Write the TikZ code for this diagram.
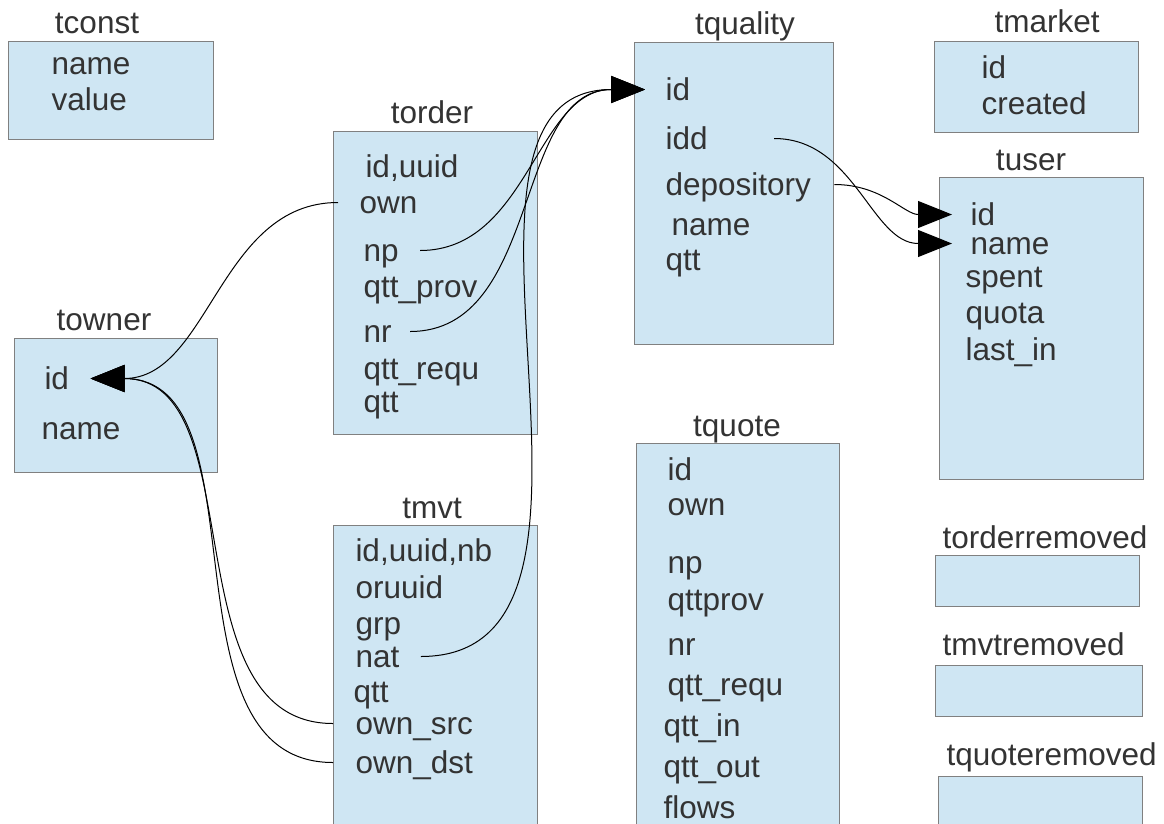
\documentclass[tikz,border=0pt]{standalone}
\usepackage{fontspec}
\setmainfont{Liberation Sans}
\usepackage{tikz}
\usetikzlibrary{arrows.meta,positioning,calc}

\definecolor{tablefill}{HTML}{CFE6F3}
\definecolor{tableline}{HTML}{808080}
\definecolor{fieldtext}{HTML}{333333}

\begin{document}
\begin{tikzpicture}[->, >={Triangle[length=34pt,width=27pt]}, x=1pt, y=-1pt, line width=1pt]
\tikzstyle{every node}=[inner sep=0pt, text=fieldtext, font=\fontsize{31.5}{36}\selectfont, text height=21pt, text depth=0pt]
\tikzstyle{table}=[-, draw=tableline, fill=tablefill]
\tikzstyle{title}=[anchor=base]
\tikzstyle{field}=[anchor=base west]

\useasboundingbox (0,0) rectangle (1164,823);
\clip (0,0) rectangle (1164,823);

% table boxes
\draw[table] (8,41)    rectangle (213,139);   % tconst
\draw[table] (333,131) rectangle (537,434);   % torder
\draw[table] (14,338)  rectangle (217,472);   % towner
\draw[table] (333,525) rectangle (537,830);   % tmvt
\draw[table] (634,42)  rectangle (833,344);   % tquality
\draw[table] (934,41)  rectangle (1138,132);  % tmarket
\draw[table] (939,177) rectangle (1143,479);  % tuser
\draw[table] (636,443) rectangle (839,830);   % tquote
\draw[table] (935,555) rectangle (1139,606);  % torderremoved
\draw[table] (935,665) rectangle (1142,716);  % tmvtremoved
\draw[table] (938,776) rectangle (1142,830);  % tquoteremoved

% tconst
\node[title] (tconst)       at (97,33)   {tconst};
\node[field] (tconst-name)  at (51,74)   {name};
\node[field] (tconst-value) at (51,110)  {value};

% torder
\node[title] (torder)         at (432,123) {torder};
\node[field] (torder-id)      at (365,177) {id,uuid};
\node[field] (torder-own)     at (359,213) {own};
\node[field] (torder-np)      at (363,261) {np};
\node[field] (torder-qttprov) at (363,297) {qtt\_prov};
\node[field] (torder-nr)      at (363,342) {nr};
\node[field] (torder-qttrequ) at (363,379) {qtt\_requ};
\node[field] (torder-qtt)     at (363,412) {qtt};

% towner
\node[title] (towner)      at (104,330) {towner};
\node[field] (towner-id)   at (44,389)  {id};
\node[field] (towner-name) at (41,439)  {name};

% tmvt
\node[title] (tmvt)        at (432,518) {tmvt};
\node[field] (tmvt-id)     at (355,561) {id,uuid,nb};
\node[field] (tmvt-oruuid) at (355,598) {oruuid};
\node[field] (tmvt-grp)    at (355,634) {grp};
\node[field] (tmvt-nat)    at (355,667) {nat};
\node[field] (tmvt-qtt)    at (353,702) {qtt};
\node[field] (tmvt-ownsrc) at (355,734) {own\_src};
\node[field] (tmvt-owndst) at (355,773) {own\_dst};

% tquality
\node[title] (tquality)            at (745,34)  {tquality};
\node[field] (tquality-id)         at (665,100) {id};
\node[field] (tquality-idd)        at (665,149) {idd};
\node[field] (tquality-depository) at (665,195) {depository};
\node[field] (tquality-name)       at (671,235) {name};
\node[field] (tquality-qtt)        at (665,270) {qtt};

% tmarket
\node[title] (tmarket)         at (1047,32) {tmarket};
\node[field] (tmarket-id)      at (981,78)  {id};
\node[field] (tmarket-created) at (981,114) {created};

% tuser
\node[title] (tuser)        at (1031,170) {tuser};
\node[field] (tuser-id)     at (970,225)  {id};
\node[field] (tuser-name)   at (970,254)  {name};
\node[field] (tuser-spent)  at (965,287)  {spent};
\node[field] (tuser-quota)  at (965,323)  {quota};
\node[field] (tuser-lastin) at (965,360)  {last\_in};

% tquote
\node[title] (tquote)         at (737,436) {tquote};
\node[field] (tquote-id)      at (667,480) {id};
\node[field] (tquote-own)     at (667,515) {own};
\node[field] (tquote-np)      at (667,573) {np};
\node[field] (tquote-qttprov) at (667,610) {qttprov};
\node[field] (tquote-nr)      at (667,655) {nr};
\node[field] (tquote-qttrequ) at (667,695) {qtt\_requ};
\node[field] (tquote-qttin)   at (663,736) {qtt\_in};
\node[field] (tquote-qttout)  at (663,777) {qtt\_out};
\node[field] (tquote-flows)   at (663,818) {flows};

% removed tables
\node[title, anchor=base west] (torderremoved) at (942,548) {torderremoved};
\node[title, anchor=base west] (tmvtremoved)   at (942,655) {tmvtremoved};
\node[title, anchor=base west] (tquoteremoved) at (946,765) {tquoteremoved};

% references
\path
([xshift=21pt]torder-np.east)           edge[out=0, in=180]   ([xshift=-20pt]tquality-id.west)
([xshift=18pt]torder-nr.east)           edge[out=0, in=180]   ([xshift=-20pt]tquality-id.west)
([xshift=21pt]tmvt-nat.east)            edge[out=0, in=180]   ([xshift=-20pt]tquality-id.west)
([xshift=66pt]tquality-idd.east)        edge[out=0, in=180]   ([xshift=-18pt]tuser-name.west)
([xshift=23pt]tquality-depository.east) edge[out=0, in=180]   ([xshift=-18pt]tuser-id.west)

([xshift=-21pt]torder-own.west)         edge[out=180, in=0]   ([xshift=21pt]towner-id.east)
([xshift=-22pt]tmvt-ownsrc.west)        edge[out=180, in=0]   ([xshift=21pt]towner-id.east)
([xshift=-22pt]tmvt-owndst.west)        edge[out=180, in=0]   ([xshift=21pt]towner-id.east);

\end{tikzpicture}
\end{document}
